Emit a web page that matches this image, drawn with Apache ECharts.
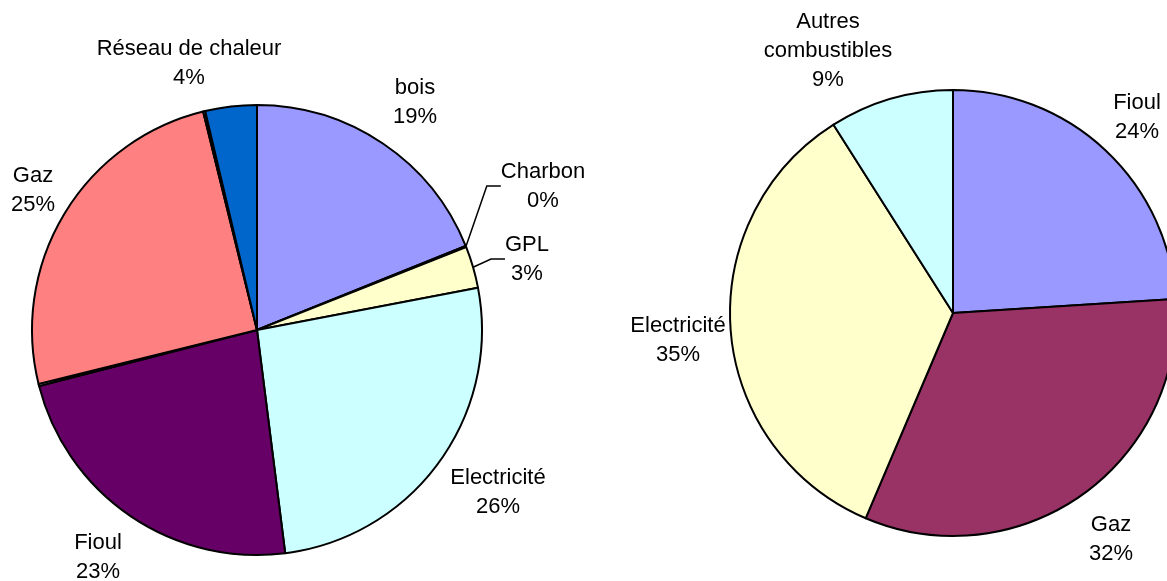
<!DOCTYPE html>
<html>
<head>
<meta charset="utf-8">
<script src="https://cdn.jsdelivr.net/npm/echarts@6/dist/echarts.min.js"></script>
<style>
html, body {margin: 0; padding: 0; background: #fff;}
#chart {width: 1167px; height: 581px;}
</style>
</head>
<body>
<div id="chart"></div>
<script>
// camembert gauche
const leftNames = ['bois', 'Charbon', 'GPL', 'Electricité', 'Fioul', '', 'Gaz', '', 'Réseau de chaleur'];
const leftValues = [18.9, 0.1, 3.0, 26.0, 23.0, 0.15, 25.0, 0.15, 3.7];
const leftColors = ['#9999FF', '#993366', '#FFFFCC', '#CCFFFF', '#660066', '#FFFFFF', '#FF8080', '#FFFFFF', '#0066CC'];

// camembert droit
const rightNames = ['Fioul', 'Gaz', 'Electricité', 'Autres\ncombustibles'];
const rightValues = [24, 32.4, 34.6, 9];
const rightColors = ['#9999FF', '#993366', '#FFFFCC', '#CCFFFF'];

// centre des étiquettes (px)
const leftLabelPos = [[415, 102], [543, 186], [527, 259], [498, 492], [98, 557], null, [33, 190], null, [189, 63]];
const rightLabelPos = [[1137, 117], [1111, 539], [678, 340], [828, 51]];
const guided = ['Charbon', 'GPL'];

const chart = echarts.init(document.getElementById('chart'), null, {renderer: 'canvas'});

function makeSeries(names, values, colors, labelPos, center, radius) {
	return {
		type: 'pie',
		center: center,
		radius: radius,
		startAngle: 90,
		clockwise: true,
		avoidLabelOverlap: false,
		silent: true,
		animation: false,
		itemStyle: {borderColor: '#000', borderWidth: 2},
		label: {
			position: 'outside',
			color: '#000',
			fontFamily: 'Liberation Sans, Arial, sans-serif',
			fontSize: 22,
			lineHeight: 29,
			align: 'center',
			formatter: p => p.name + '\n' + Math.round(p.value) + '%'
		},
		labelLine: {
			show: false,
			length: 10,
			length2: 14,
			smooth: false,
			lineStyle: {color: '#000', width: 1.5}
		},
		labelLayout: p => {
			const pos = labelPos[p.dataIndex];
			if (!pos) return {};
			return {x: pos[0], y: pos[1], align: 'center', verticalAlign: 'middle'};
		},
		data: names.map((n, i) => ({
			name: n,
			value: values[i],
			itemStyle: {color: colors[i]},
			label: {show: n !== ''},
			labelLine: {show: guided.indexOf(n) > -1}
		}))
	};
}

chart.setOption({
	backgroundColor: '#fff',
	animation: false,
	series: [
		makeSeries(leftNames, leftValues, leftColors, leftLabelPos, [257, 330], 225),
		makeSeries(rightNames, rightValues, rightColors, rightLabelPos, [953, 313], 223)
	]
});
</script>
</body>
</html>
